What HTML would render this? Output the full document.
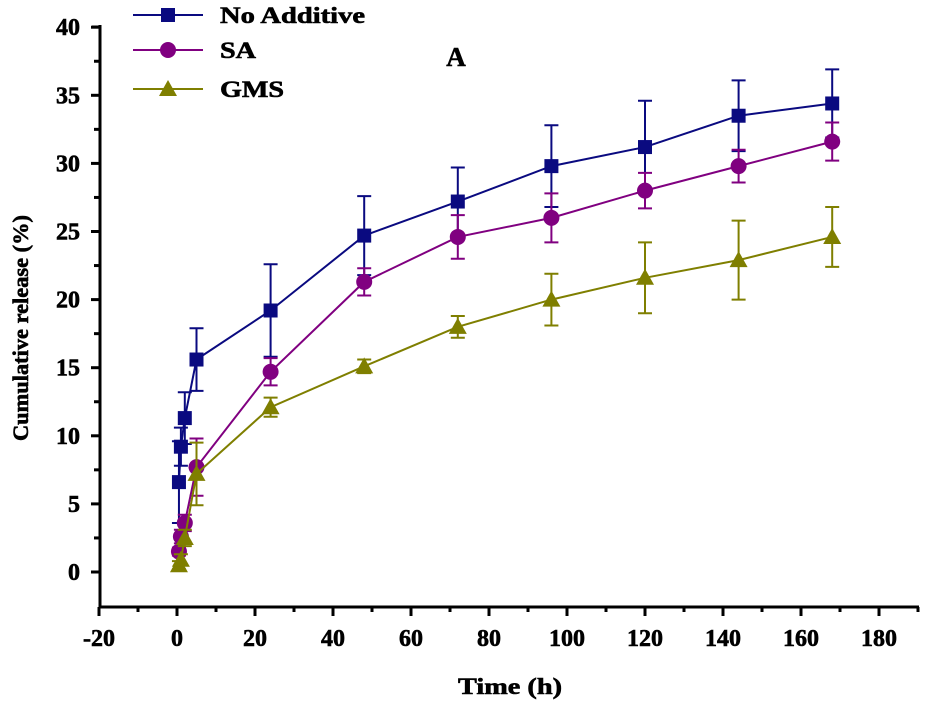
<!DOCTYPE html>
<html><head><meta charset="utf-8"><style>
body{margin:0;background:#fff}
text{font-family:"Liberation Serif",serif;font-weight:bold;stroke:#000;stroke-width:0.6}
</style></head><body>
<svg id="c" width="932" height="703" xmlns="http://www.w3.org/2000/svg"></svg>
<script>
const times=[0.5,1,2,5,24,48,72,96,120,144,168];
const noAdd=[6.6,9.2,11.3,15.6,19.2,24.7,27.2,29.8,31.2,33.5,34.4];
const noAddErr=[3,1.4,1.9,2.3,3.4,2.9,2.5,3,3.4,2.6,2.5];
const sa=[1.5,2.6,3.6,7.7,14.7,21.3,24.6,26,28,29.8,31.6];
const saErr=[0.3,0.5,0.6,2.1,1.0,1.0,1.6,1.8,1.3,1.2,1.4];
const gms=[0.5,0.9,2.5,7.2,12.1,15.1,18,20,21.6,22.9,24.6];
const gmsErr=[0.3,0.4,0.6,2.3,0.7,0.5,0.8,1.9,2.6,2.9,2.2];
const xTicks=[-20,0,20,40,60,80,100,120,140,160,180];
const yTicks=[0,5,10,15,20,25,30,35,40];
const NS="http://www.w3.org/2000/svg",svg=document.getElementById('c');
const X=v=>177+v*3.9, Y=v=>572-v*13.62;
function el(t,a,p){const e=document.createElementNS(NS,t);for(const k in a)e.setAttribute(k,a[k]);(p||svg).appendChild(e);return e;}
const ax=el('g',{stroke:'#000','stroke-width':3,fill:'none'});


el('path',{d:`M100 27 H92 M100 25 V607 H919`},ax);
for(let v=-20;v<=190;v+=10){el('line',{x1:X(v),x2:X(v),y1:607,y2:v%20==0?616:612},ax);}
for(let v=0;v<=40;v+=2.5){el('line',{x1:100,x2:v%5==0?91:94,y1:Y(v),y2:Y(v)},ax);}
xTicks.forEach(v=>{const t=el('text',{x:X(v),y:646,'text-anchor':'middle','font-size':24});t.textContent=v;

});
yTicks.forEach(v=>{const t=el('text',{x:80,y:Y(v)+8,'text-anchor':'end','font-size':24});t.textContent=v;

});
let t=el('text',{x:458,y:694,'font-size':23,textLength:104,lengthAdjust:'spacingAndGlyphs'});t.textContent='Time (h)';


t=el('text',{x:0,y:0,'font-size':22,textLength:226,lengthAdjust:'spacingAndGlyphs',transform:'translate(28,441) rotate(-90)'});t.textContent='Cumulative release (%)';


t=el('text',{x:456,y:66,'text-anchor':'middle','font-size':27});t.textContent='A';


function marker(g,type,x,y,c){
 if(type=='sq')el('rect',{x:x-7,y:y-7,width:14,height:14,fill:c},g);
 else if(type=='ci')el('circle',{cx:x,cy:y,r:8,fill:c},g);
 else el('polygon',{points:`${x},${y-9} ${x+9},${y+7} ${x-9},${y+7}`,fill:c},g);
}
function series(name,vals,errs,c,type){
 const g=el('g',{});
 
 
 el('polyline',{points:times.map((t,i)=>X(t)+','+Y(vals[i])).join(' '),fill:'none',stroke:c,'stroke-width':2},g);
 times.forEach((t,i)=>{const x=X(t),a=Y(vals[i]+errs[i]),b=Y(vals[i]-errs[i]);
  el('path',{d:`M${x} ${a}V${b}M${x-7} ${a}H${x+7}M${x-7} ${b}H${x+7}`,stroke:c,'stroke-width':2,fill:'none'},g);});
 times.forEach((t,i)=>marker(g,type,X(t),Y(vals[i]),c));
}
series('series-no-additive',noAdd,noAddErr,'#0a0a80','sq');
series('series-sa',sa,saErr,'#800080','ci');
series('series-gms',gms,gmsErr,'#7f7f00','tr');
[['No Additive','#0a0a80','sq',15,145],['SA','#800080','ci',50,36],['GMS','#7f7f00','tr',89,64]].forEach(([n,c,tp,y,w])=>{
 const g=el('g',{});
 
 
 el('line',{x1:133,x2:203,y1:y,y2:y,stroke:c,'stroke-width':2},g);
 marker(g,tp,168,y,c);
 const tx=el('text',{x:220,y:y+8,'font-size':23,textLength:w,lengthAdjust:'spacingAndGlyphs'},g);tx.textContent=n;
});
</script>
</body></html>
